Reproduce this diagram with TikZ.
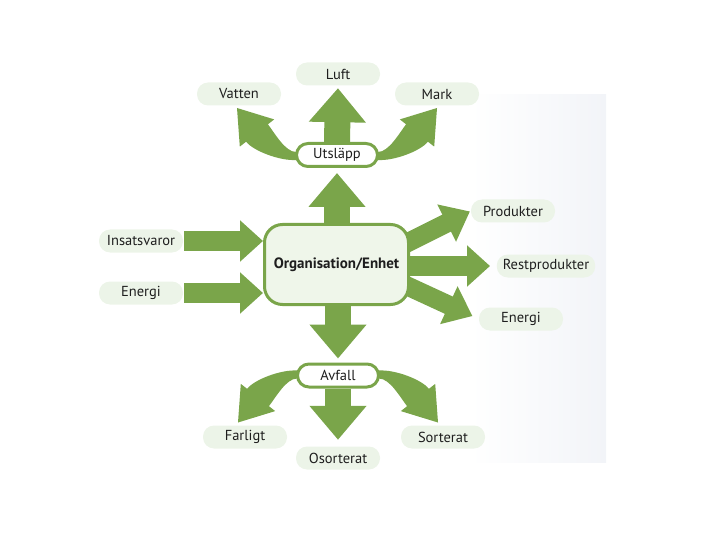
\documentclass[tikz,border=0pt]{standalone}
\usepackage{fontspec}
\setmainfont{PT Sans}
\usetikzlibrary{arrows.meta,calc,backgrounds}
\definecolor{ag}{RGB}{122,165,74}
\definecolor{pillc}{RGB}{236,244,232}
\definecolor{boxc}{RGB}{239,246,234}
\definecolor{txt}{RGB}{30,30,30}
\definecolor{pageedge}{RGB}{242,244,248}
\newcommand\bentarrow{%
  \fill[ag] (1,-3) .. controls (-10,-3) and (-20.9,-22.9) .. (-27.1,-30.7)
    -- (-20.8,-35.6) -- (-58,-47) -- (-55.2,-8.4) -- (-48.9,-13.3)
    .. controls (-41.5,-3.9) and (-15,6) .. (1,5) -- cycle;}
\begin{document}
\begin{tikzpicture}[x=1pt,y=-1pt,
  lbl/.style={fill=pillc, rounded corners=11pt, minimum width=84pt, minimum height=23pt,
    inner xsep=6pt, inner ysep=2pt, text=txt, font=\fontsize{14.5}{16}\selectfont},
  hub/.style={draw=ag, line width=3pt, fill=white, rounded corners=11.5pt,
    minimum width=81pt, minimum height=23pt, inner sep=1pt, text=txt,
    font=\fontsize{14.5}{16}\selectfont},
  core/.style={draw=ag, line width=3pt, fill=boxc, rounded corners=18pt,
    minimum width=144pt, minimum height=80pt, text=txt,
    font=\fontsize{15}{17}\selectfont\bfseries},
  vflow/.style={draw=ag, line width=26pt, -{Triangle[width=55pt,length=34pt]}},
  hflow/.style={draw=ag, line width=20pt, -{Triangle[width=40pt,length=23pt]}},
  dflow/.style={draw=ag, line width=19pt, -{Triangle[width=40pt,length=26pt]}},
]
\useasboundingbox (0,0) rectangle (720,540);
\begin{scope}[on background layer]
  \shade[left color=white, right color=pageedge] (470,95) rectangle (606,462);
  \node[lbl] (luft) at (338,74) {Luft};
  \node[lbl] (vat) at (239,94) {Vatten};
  \node[lbl] (mark) at (437,94) {Mark};
  \node[lbl] (ins) at (141,241) {Insatsvaror};
  \node[lbl] (en1) at (141,293) {Energi};
  \node[lbl] (prod) at (513,211) {Produkter};
  \node[lbl] (rest) at (546,266) {Restprodukter};
  \node[lbl] (en2) at (521,319) {Energi};
  \node[lbl] (farl) at (245,437) {Farligt};
  \node[lbl] (oso) at (338,458) {Osorterat};
  \node[lbl] (sort) at (443,437) {Sorterat};
\end{scope}

\node[core] (org) at (336.5,264.5) {Organisation/Enhet};
\node[hub] (uts) at (337,155) {Utsläpp};
\node[hub] (avf) at (338,375.5) {Avfall};

\begin{scope}[on background layer]
  % vertical flows
  \draw[vflow, shorten >=2.5pt] (uts.north) -- (luft.south);
  \draw[vflow, shorten >=5pt] (org.north -| uts) -- (uts.south);
  \draw[vflow, shorten >=4pt] (org.south -| avf) -- (avf.north);
  \draw[vflow, shorten >=6.5pt] (avf.south) -- (oso.north);
  % inputs
  \draw[hflow, shorten <=43pt] (ins.center) -- (org.west |- ins.center);
  \draw[hflow, shorten <=43pt] (en1.center) -- (org.west |- en1.center);
  % outputs
  \draw[hflow, shorten >=56pt] (org.east |- rest.center) -- (rest.center);
  \draw[dflow, shorten >=1pt] ([shift={(-6,-20)}]org.east) -- (prod.west);
  \draw[dflow, shorten >=7pt] ([shift={(-6,20)}]org.east) -- (en2.west);
  % bent flows
  \begin{scope}[shift={(uts.west)}] \bentarrow \end{scope}
  \begin{scope}[shift={(uts.east)}, xscale=-1] \bentarrow \end{scope}
  \begin{scope}[shift={(avf.west)}, yscale=-1] \bentarrow \end{scope}
  \begin{scope}[shift={(avf.east)}, xscale=-1, yscale=-1] \bentarrow \end{scope}
\end{scope}
\end{tikzpicture}
\end{document}
